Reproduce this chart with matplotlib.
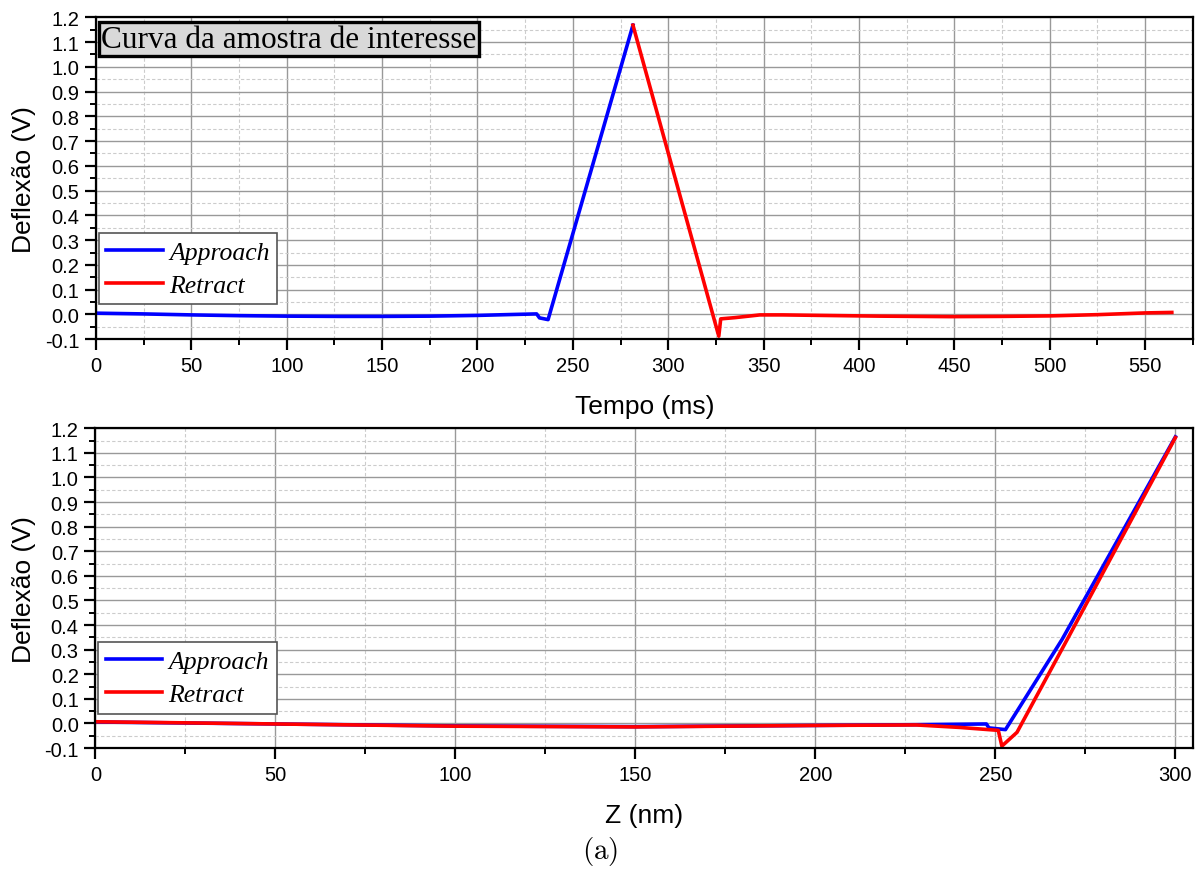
import matplotlib.pyplot as plt
from matplotlib.ticker import MultipleLocator

plt.rcParams['font.family'] = ['Liberation Sans', 'DejaVu Sans']
plt.rcParams['mathtext.fontset'] = 'cm'

# Deflexão x tempo
approach_t = [0, 25, 50, 75, 100, 128, 150, 175, 200, 220, 231, 232.5, 237, 281.5]
approach_v = [0.005, 0.002, -0.002, -0.005, -0.007, -0.008, -0.008, -0.007,
              -0.004, 0.000, 0.002, -0.014, -0.021, 1.168]
retract_t = [281.5, 326.5, 327.5, 335, 348, 360, 380, 411, 448, 475, 500, 525, 550, 564]
retract_v = [1.168, -0.088, -0.018, -0.013, -0.002, -0.002, -0.004, -0.007,
             -0.009, -0.008, -0.006, -0.001, 0.006, 0.008]

# Deflexão x Z
approach_z = [0, 50, 100, 150, 200, 228, 247.5, 248.2, 252.8, 268.5, 300]
approach_zv = [0.006, -0.002, -0.010, -0.013, -0.008, -0.005, -0.002, -0.018,
               -0.025, 0.341, 1.165]
retract_z = [0, 50, 100, 150, 200, 228, 240, 250.8, 251.8, 256, 270, 300]
retract_zv = [0.007, -0.002, -0.011, -0.014, -0.008, -0.006, -0.016, -0.028,
              -0.092, -0.036, 0.343, 1.162]

blue = '#0000ff'
red = '#ff0000'
serif = ['Liberation Serif', 'DejaVu Serif']
lw = 2.6

fig = plt.figure(figsize=(12, 8.7), dpi=100)
ax1 = fig.add_axes([0.08, 0.609, 0.914, 0.370])
ax2 = fig.add_axes([0.0795, 0.139, 0.915, 0.3676])


def style_axes(ax, xmax, xmajor, xminor):
    ax.set_xlim(0, xmax)
    ax.set_ylim(-0.1, 1.2)
    ax.xaxis.set_major_locator(MultipleLocator(xmajor))
    ax.xaxis.set_minor_locator(MultipleLocator(xminor))
    ax.yaxis.set_major_locator(MultipleLocator(0.1))
    ax.yaxis.set_minor_locator(MultipleLocator(0.05))
    ax.yaxis.set_major_formatter(lambda v, p: f'{v:.1f}')
    ax.grid(which='major', color='#999999', linewidth=1.0, linestyle='-')
    ax.grid(which='minor', color='#cccccc', linewidth=0.8, linestyle=(0, (3, 2)))
    ax.set_axisbelow(True)
    ax.tick_params(which='major', direction='out', length=8, width=1.6,
                   labelsize=14.5, pad=4)
    ax.tick_params(which='minor', direction='out', length=4.5, width=1.4)
    for s in ax.spines.values():
        s.set_linewidth(1.6)
        s.set_color('black')
    ax.set_ylabel('Deflexão (V)', fontsize=19, labelpad=6)


def add_legend(ax):
    leg = ax.legend(loc='lower left', bbox_to_anchor=(0.0, 0.1),
                    prop={'family': serif, 'style': 'italic', 'size': 18.5},
                    frameon=True, fancybox=False, edgecolor='#555555',
                    framealpha=1, handlelength=2.2, handletextpad=0.25,
                    borderpad=0.3, labelspacing=0.38, borderaxespad=0.1)
    leg.get_frame().set_linewidth(1.2)


ax1.plot(approach_t, approach_v, color=blue, linewidth=lw, label='Approach')
ax1.plot(retract_t, retract_v, color=red, linewidth=lw, label='Retract')
style_axes(ax1, 575, 50, 25)
ax1.set_xlabel('Tempo (ms)', fontsize=19, labelpad=14)
add_legend(ax1)
ax1.text(0.005, 0.976, 'Curva da amostra de interesse', transform=ax1.transAxes,
         ha='left', va='top', fontsize=22.5, family=serif,
         bbox=dict(boxstyle='square,pad=0.08', facecolor='#d9d9d9',
                   edgecolor='black', linewidth=2.4), zorder=5)

ax2.plot(approach_z, approach_zv, color=blue, linewidth=lw, label='Approach')
ax2.plot(retract_z, retract_zv, color=red, linewidth=lw, label='Retract')
style_axes(ax2, 305, 50, 25)
ax2.set_xlabel('Z (nm)', fontsize=19, labelpad=14)
add_legend(ax2)

fig.text(0.5, 0.021, r'$\mathrm{(a)}$', ha='center', va='center', fontsize=21)

fig.savefig('out.png', dpi=100)
